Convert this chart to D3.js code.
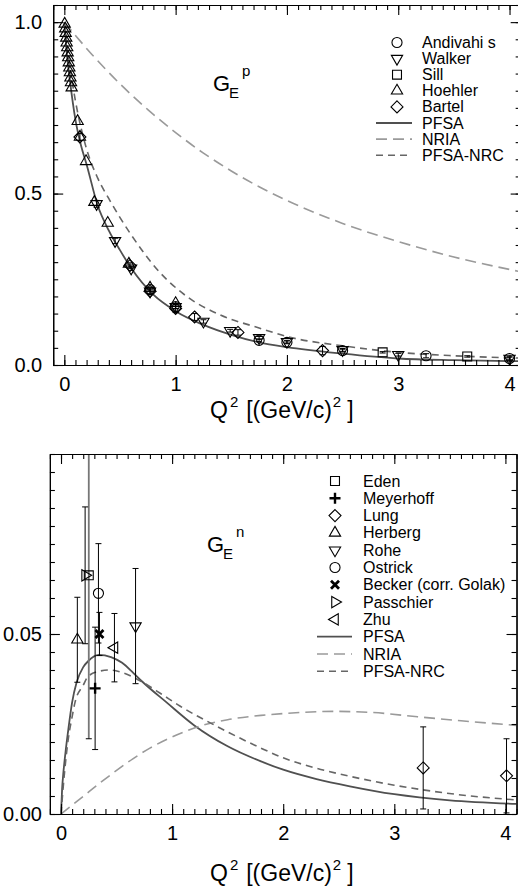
<!DOCTYPE html>
<html>
<head>
<meta charset="utf-8">
<script src="https://cdnjs.cloudflare.com/ajax/libs/d3/7.8.5/d3.min.js"></script>
<style>
body { margin:0; background:#fff; }
svg { font-family: "Liberation Sans", Arial, Helvetica, sans-serif; }
</style>
</head>
<body>
<svg id="chart" width="518" height="887"></svg>
<script>
// ---------- top panel: proton G_E^p   [Q2, G, err]
var andivahis = [[0.77,0.22,0.005],[1.0,0.17,0.005],[1.75,0.072,0.004],[2.0,0.066,0.004],[2.5,0.042,0.004],[3.25,0.027,0.006],[4.0,0.019,0.005]];
var walker = [[0.29,0.47,0.01],[0.456,0.362,0.008],[0.6,0.282,0.006],[0.77,0.215,0.006],[1.0,0.17,0.006],[1.25,0.127,0.005],[1.49,0.1,0.004],[1.75,0.079,0.004],[2.0,0.068,0.004],[2.5,0.044,0.004],[3.0,0.03,0.004],[4.0,0.019,0.004]];
var sill = [[2.86,0.037,0.002],[3.62,0.025,0.002]];
var hoehler = [[0.003,0.995],[0.008,0.981],[0.012,0.968],[0.017,0.954],[0.021,0.94],[0.026,0.926],[0.03,0.911],[0.035,0.897],[0.04,0.882],[0.045,0.867],[0.05,0.853],[0.055,0.838],[0.06,0.824],[0.066,0.809],[0.12,0.711],[0.14,0.665],[0.195,0.594],[0.27,0.475],[0.39,0.414],[0.58,0.295],[0.77,0.225],[1.0,0.18]];
var bartel = [[0.14,0.665,0.01],[0.59,0.29,0.008],[0.77,0.215,0.01],[1.0,0.165,0.012],[1.17,0.14,0.01],[1.56,0.095,0.008],[2.32,0.042,0.012]];

var pfsaP = [[0,1],[0.025,0.9],[0.05,0.83],[0.1,0.715],[0.15,0.64],[0.2,0.585],[0.3,0.465],[0.4,0.392],[0.5,0.335],[0.6,0.283],[0.8,0.205],[1.0,0.157],[1.25,0.117],[1.5,0.088],[1.75,0.066],[2.0,0.052],[2.5,0.033],[3.0,0.019],[3.5,0.014],[4.1,0.011]];
var nriaP = [[0,1],[0.25,0.905],[0.5,0.82],[0.75,0.745],[1.0,0.678],[1.25,0.618],[1.5,0.566],[1.75,0.52],[2.0,0.48],[2.5,0.413],[3.0,0.36],[3.5,0.315],[4.1,0.272]];
var nrcP = [[0,1],[0.05,0.87],[0.1,0.77],[0.2,0.63],[0.3,0.545],[0.4,0.485],[0.6,0.38],[0.85,0.273],[1.1,0.2],[1.4,0.146],[1.75,0.108],[2.0,0.083],[2.5,0.056],[3.0,0.037],[3.5,0.027],[4.1,0.02]];

// ---------- bottom panel: neutron G_E^n
var eden = [[0.25,0.0663,0.0454]];
var meyerhoff = [[0.307,0.0349,0.017]];
var lung = [[3.26,0.0128,0.0114],[4.01,0.0106,0.0103]];
var herberg = [[0.147,0.0484,0.0118]];
var rohe = [[0.671,0.0522,0.016]];
var ostrick = [[0.337,0.0613,0.0138]];
var becker = [[0.346,0.050,0.006]];
var passchier = [[0.217,0.0663,0.019]];
var zhu = [[0.481,0.0462,0.0095]];

var pfsaN = [[0,0],[0.01,0.007],[0.02,0.011],[0.04,0.017],[0.066,0.0235],[0.1,0.031],[0.14,0.0365],[0.2,0.0408],[0.246,0.0425],[0.34,0.0442],[0.45,0.0436],[0.55,0.042],[0.65,0.0392],[0.73,0.0368],[0.95,0.031],[1.2,0.0246],[1.5,0.0188],[1.8,0.0146],[2.0,0.0123],[2.3,0.0097],[2.6,0.0077],[3.0,0.0055],[3.5,0.0038],[4.1,0.0028]];
var nriaN = [[0,0],[0.2,0.0049],[0.35,0.0086],[0.5,0.0121],[0.65,0.0154],[0.8,0.0183],[0.95,0.0207],[1.1,0.0227],[1.25,0.0244],[1.5,0.0262],[1.8,0.0274],[2.0,0.0279],[2.46,0.0285],[2.8,0.0282],[3.21,0.027],[3.6,0.0259],[4.1,0.0246]];
var nrcN = [[0,0],[0.03,0.011],[0.066,0.021],[0.1,0.027],[0.126,0.031],[0.2,0.0358],[0.246,0.0383],[0.35,0.0397],[0.44,0.0400],[0.55,0.0393],[0.74,0.0365],[0.9,0.0334],[1.07,0.030],[1.4,0.0244],[1.8,0.0183],[2.0,0.0156],[2.3,0.0127],[2.61,0.0104],[3.0,0.008],[3.26,0.0067],[3.6,0.0053],[4.1,0.0039]];

var xTicks = [0,1,2,3,4];
var yTicksP = [0,0.5,1.0];
var yTicksN = [0,0.05];

var svg = d3.select("#chart");

// line styles for the three calculations
var curveStyles = {
    PFSA: {stroke:"#505050", dash:null, width:1.8},
    NRIA: {stroke:"#9a9a9a", dash:"11,6", width:1.6},
    "PFSA-NRC": {stroke:"#666", dash:"7,5", width:1.6}
};

function symbolPath(type){
    if(type=="circle") return d3.symbol().type(d3.symbolCircle).size(80)();
    if(type=="square") return d3.symbol().type(d3.symbolSquare).size(80)();
    if(type=="diamond") return "M0,-6L6,0L0,6L-6,0Z";
    if(type=="plus") return "M-5.5,0H5.5M0,-5.5V5.5";
    if(type=="cross") return "M-4,-4L4,4M-4,4L4,-4";
    return d3.symbol().type(d3.symbolTriangle).size(55)();
}
function symbolRot(type){
    if(type=="down") return 180;
    if(type=="right") return 90;
    if(type=="left") return -90;
    return 0;
}
function drawSymbol(g, type, x, y){
    var heavy = (type=="plus"||type=="cross");
    g.append("path")
        .attr("d", symbolPath(type))
        .attr("transform", "translate(" + x + "," + y + ") rotate(" + symbolRot(type) + ")")
        .style("fill", "none")
        .style("stroke", "#000")
        .style("stroke-width", heavy ? (type=="cross" ? 2.8 : 2.4) : 1.1);
}

function drawPanel(p){
    var x = d3.scaleLinear().domain([-0.1, 4.1]).range([p.left, p.left + 4.2*p.unitX]);
    var y = d3.scaleLinear().domain(p.yDomain).range([p.bottom, p.top]);
    var g = svg.append("g");

    var clipId = "clip" + p.id;
    g.append("clipPath").attr("id", clipId)
        .append("rect")
        .attr("x", x(-0.1)).attr("y", y(p.yDomain[1]))
        .attr("width", x(4.1)-x(-0.1)).attr("height", y(p.yDomain[0])-y(p.yDomain[1]));

    var plot = g.append("g").attr("clip-path", "url(#" + clipId + ")");

    var line = d3.line()
        .x(function(d){ return x(d[0]); })
        .y(function(d){ return y(d[1]); })
        .curve(d3.curveMonotoneX);

    p.curves.forEach(function(c){
        var st = curveStyles[c.name];
        plot.append("path")
            .attr("d", line(c.data))
            .style("fill", "none")
            .style("stroke", st.stroke)
            .style("stroke-width", st.width)
            .style("stroke-dasharray", st.dash);
    });

    // error bars, then symbols on top
    p.sets.forEach(function(s){
        s.data.forEach(function(d){
            if(!d[2]) return;
            var col = s.barColor || "#000";
            var cx = x(d[0]);
            plot.append("line")
                .attr("x1", cx).attr("x2", cx)
                .attr("y1", y(d[1]-d[2])).attr("y2", y(d[1]+d[2]))
                .style("stroke", col).style("stroke-width", s.barWidth || 1);
            [d[1]-d[2], d[1]+d[2]].forEach(function(v){
                plot.append("line")
                    .attr("x1", cx-3).attr("x2", cx+3)
                    .attr("y1", y(v)).attr("y2", y(v))
                    .style("stroke", "#000").style("stroke-width", 1);
            });
        });
    });
    p.sets.forEach(function(s){
        s.data.forEach(function(d){
            drawSymbol(plot, s.symbol, x(d[0]), y(d[1]));
        });
    });

    // axes: inward ticks on all four sides
    var xMinor = d3.range(-0.1, 4.15, 0.1);
    var yMinor = d3.range(p.yDomain[0], p.yDomain[1]+p.yMinorStep/2, p.yMinorStep);
    function styleAxis(sel){
        sel.selectAll("path").style("stroke", "#000").style("stroke-width", 1.2);
        sel.selectAll("line").style("stroke", "#000").style("stroke-width", 1.1);
        sel.selectAll("text").style("font-size", "20px").style("fill", "#000");
    }
    var axes = [
        [d3.axisBottom(x), "translate(0," + p.bottom + ")", xTicks, xMinor, true],
        [d3.axisTop(x), "translate(0," + y(p.yDomain[1]) + ")", xTicks, xMinor, false],
        [d3.axisLeft(y), "translate(" + p.left + ",0)", p.yTicks, yMinor, true],
        [d3.axisRight(y), "translate(" + x(4.1) + ",0)", p.yTicks, yMinor, false]
    ];
    axes.forEach(function(a){
        g.append("g").attr("transform", a[1])
            .call(a[0].tickValues(a[3]).tickSize(-5).tickSizeOuter(0).tickFormat(""))
            .call(styleAxis);
        var major = a[0].scale() == x ? d3.format("d") : d3.format(p.yFormat);
        g.append("g").attr("transform", a[1])
            .call(a[0].tickValues(a[2]).tickSize(-10).tickSizeOuter(0)
                .tickPadding(a[0].scale() == x ? 12 : p.yPad)
                .tickFormat(a[4] ? major : ""))
            .call(styleAxis);
    });

    // axis title  Q^2 [(GeV/c)^2 ]
    var t = g.append("text").attr("x", 210).attr("y", p.titleY).style("font-size", "23px");
    t.append("tspan").text("Q");
    t.append("tspan").attr("dy", -11).attr("dx", 2).style("font-size", "15px").text("2");
    t.append("tspan").attr("dy", 11).attr("dx", 8).text("[(GeV/c)");
    t.append("tspan").attr("dy", -11).attr("dx", 1).style("font-size", "15px").text("2");
    t.append("tspan").attr("dy", 11).attr("dx", 6).text("]");

    // G_E label
    g.append("text").attr("x", p.gLabel[0]).attr("y", p.gLabel[1]).style("font-size", "22px").text("G");
    g.append("text").attr("x", p.gLabel[0]+16).attr("y", p.gLabel[1]+7).style("font-size", "15px").text("E");
    g.append("text").attr("x", p.gLabel[0]+29).attr("y", p.gLabel[1]-15).style("font-size", "15px").text(p.gSup);

    // legend
    var rows = p.sets.map(function(s){ return {name:s.name, symbol:s.symbol}; })
        .concat(p.curves.map(function(c){ return {name:c.name, curve:true}; }));
    rows.forEach(function(r, i){
        var ry = p.legend.y + i*p.legend.dy;
        if(r.curve){
            var st = curveStyles[r.name];
            g.append("line")
                .attr("x1", p.legend.lineX[0]).attr("x2", p.legend.lineX[1])
                .attr("y1", ry).attr("y2", ry)
                .style("stroke", st.stroke).style("stroke-width", st.width)
                .style("stroke-dasharray", st.dash);
        } else {
            drawSymbol(g, r.symbol, p.legend.symX, ry);
        }
        g.append("text").attr("x", p.legend.textX).attr("y", ry + 5.5)
            .style("font-size", "16px").text(r.name);
    });
}

drawPanel({
    id: "P", left: 53.2, unitX: 111.3, top: 5, bottom: 365,
    yDomain: [0, 1.05], yTicks: yTicksP, yMinorStep: 0.05, yFormat: ".1f", yPad: 11,
    titleY: 418, gLabel: [213, 91], gSup: "p",
    legend: {y: 42.5, dy: 16.1, symX: 397, textX: 422, lineX: [376, 412]},
    sets: [
        {name:"Andivahi s", symbol:"circle", data:andivahis},
        {name:"Walker", symbol:"down", data:walker},
        {name:"Sill", symbol:"square", data:sill},
        {name:"Hoehler", symbol:"up", data:hoehler},
        {name:"Bartel", symbol:"diamond", data:bartel}
    ],
    curves: [
        {name:"PFSA", data:pfsaP},
        {name:"NRIA", data:nriaP},
        {name:"PFSA-NRC", data:nrcP}
    ]
});

drawPanel({
    id: "N", left: 49.9, unitX: 111.1, top: 454, bottom: 814,
    yDomain: [0, 0.1], yTicks: yTicksN, yMinorStep: 0.005, yFormat: ".2f", yPad: 8,
    titleY: 881, gLabel: [207, 552], gSup: "n",
    legend: {y: 481, dy: 17.3, symX: 335, textX: 363, lineX: [317, 352]},
    sets: [
        {name:"Eden", symbol:"square", data:eden, barColor:"#777", barWidth:1.8},
        {name:"Meyerhoff", symbol:"plus", data:meyerhoff},
        {name:"Lung", symbol:"diamond", data:lung},
        {name:"Herberg", symbol:"up", data:herberg},
        {name:"Rohe", symbol:"down", data:rohe},
        {name:"Ostrick", symbol:"circle", data:ostrick},
        {name:"Becker (corr. Golak)", symbol:"cross", data:becker},
        {name:"Passchier", symbol:"right", data:passchier},
        {name:"Zhu", symbol:"left", data:zhu}
    ],
    curves: [
        {name:"PFSA", data:pfsaN},
        {name:"NRIA", data:nriaN},
        {name:"PFSA-NRC", data:nrcN}
    ]
});
</script>
</body>
</html>
